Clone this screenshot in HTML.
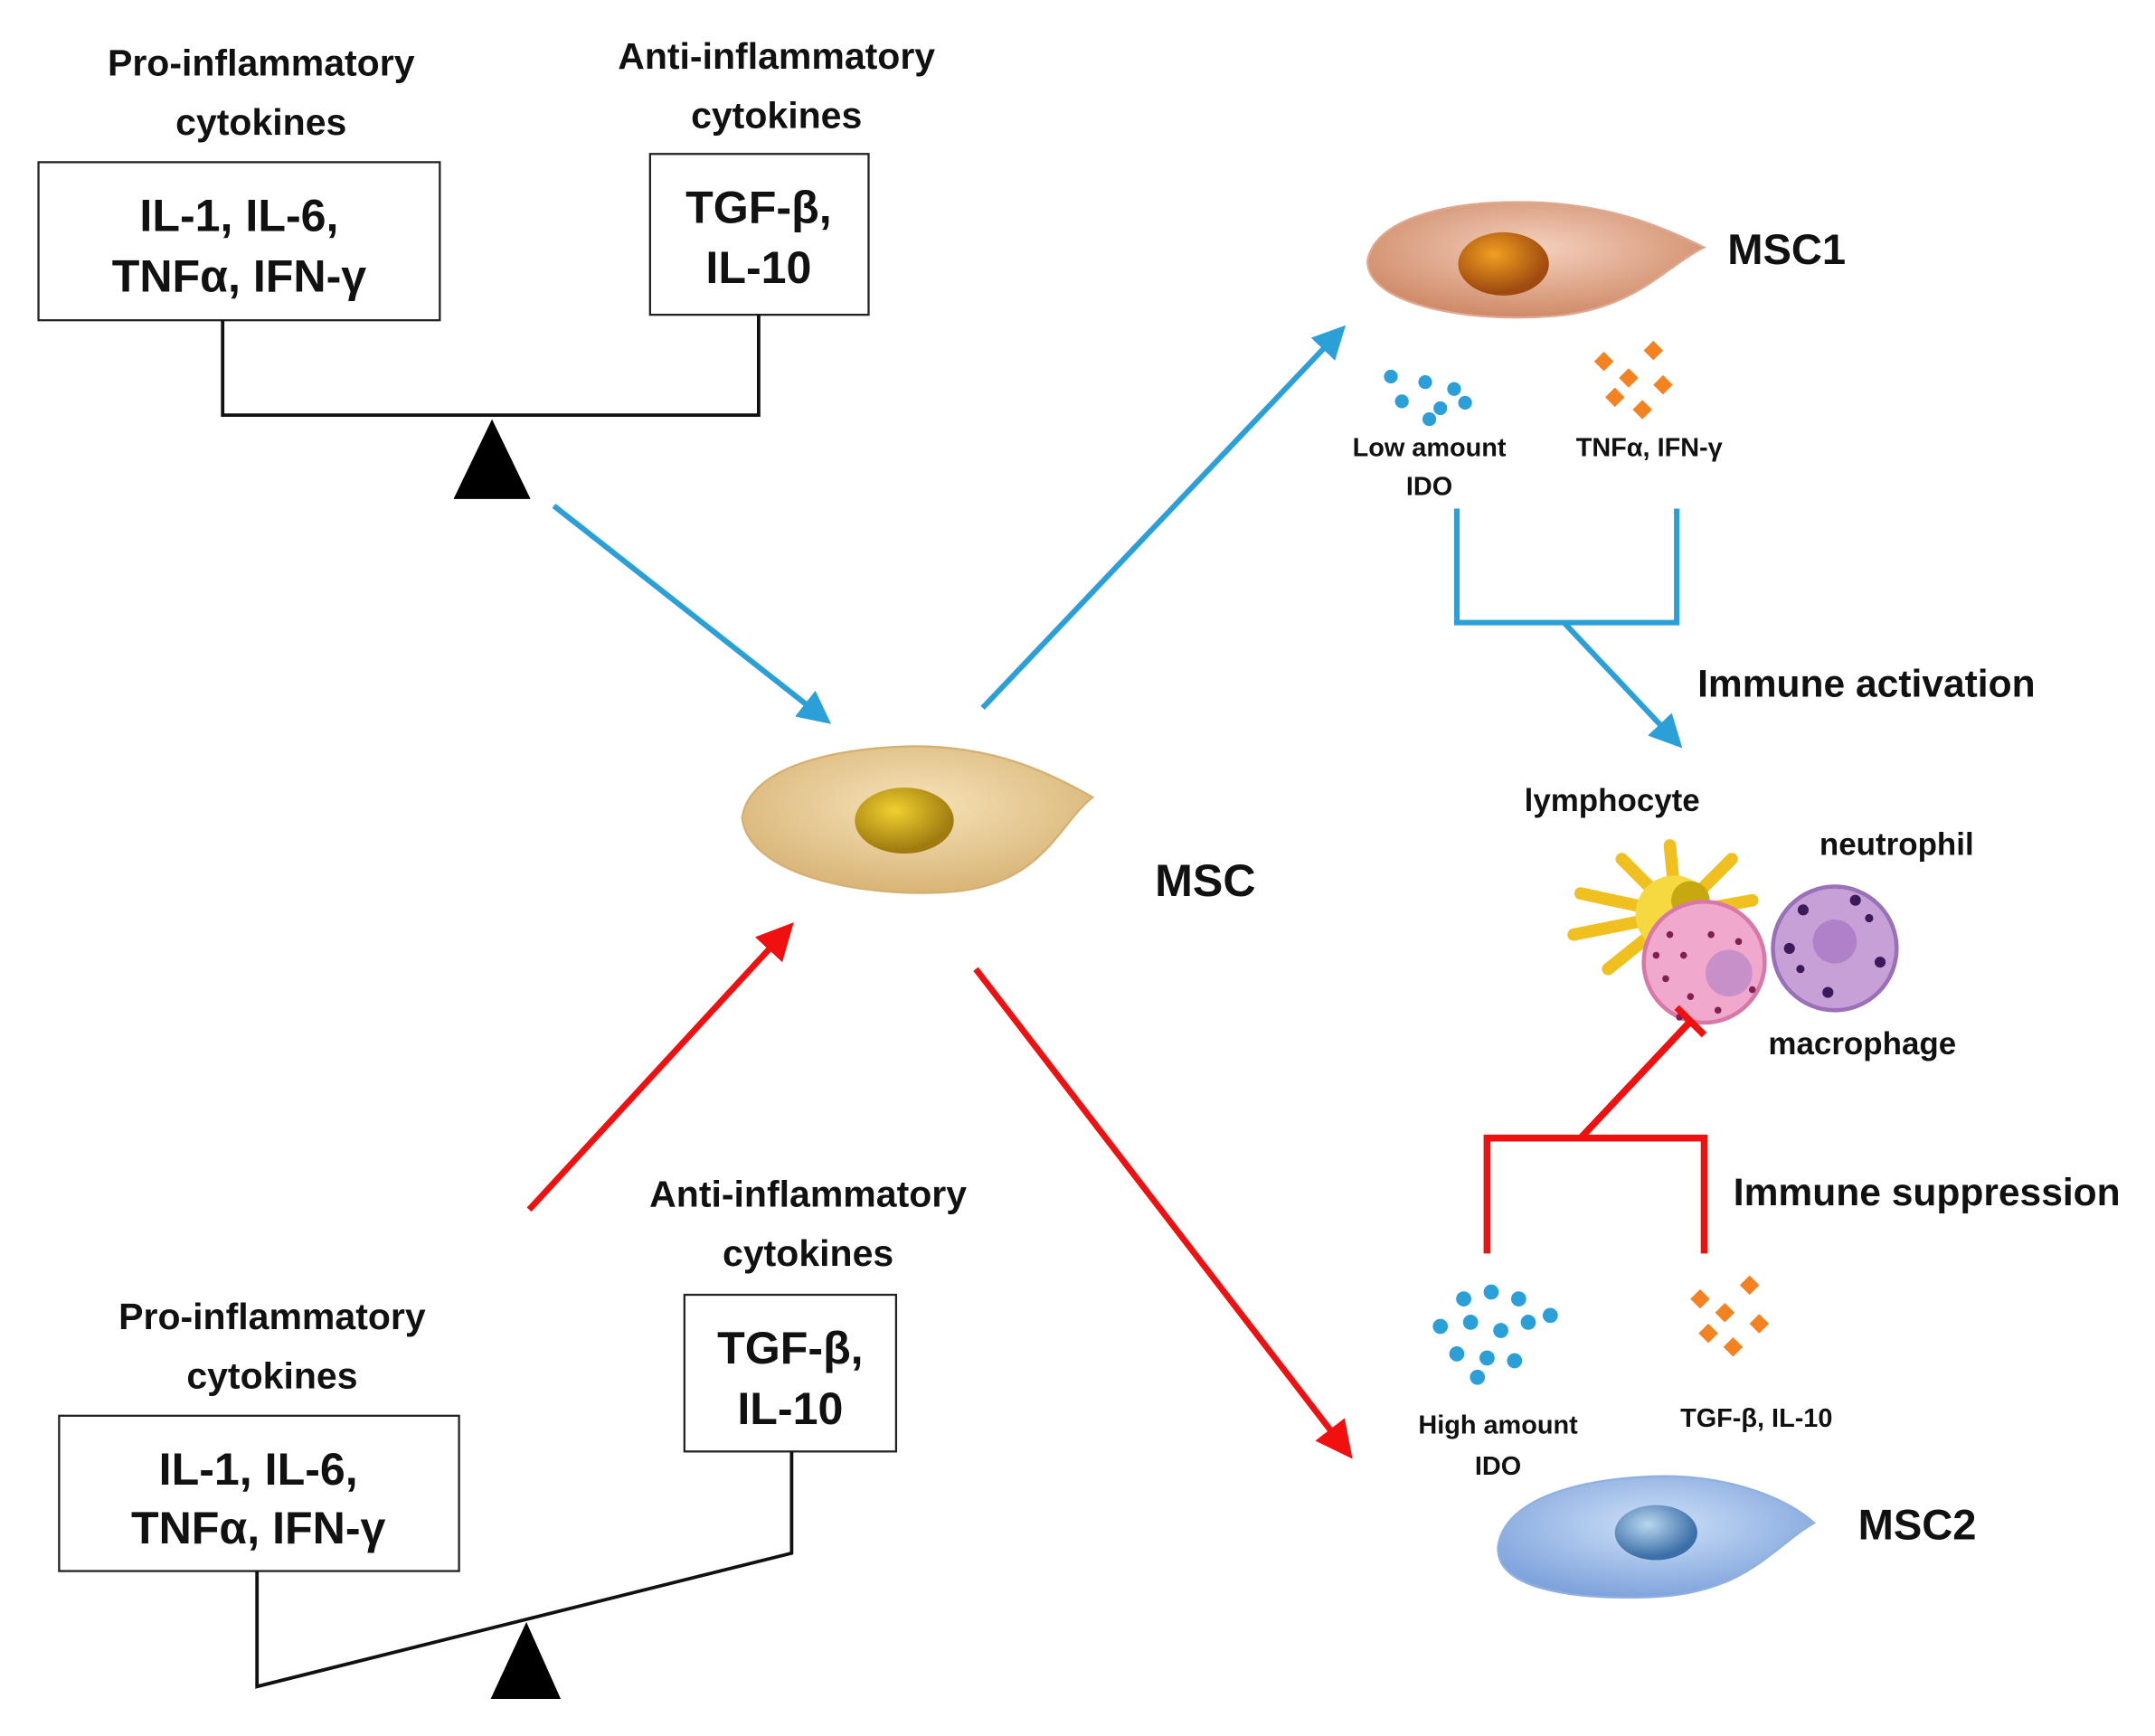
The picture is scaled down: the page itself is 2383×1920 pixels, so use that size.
<!DOCTYPE html>
<html><head><meta charset="utf-8"><style>
html,body{margin:0;padding:0;background:#fff}
svg{display:block}
text{font-family:"Liberation Sans","DejaVu Sans",sans-serif;font-weight:bold;fill:#111;text-anchor:middle}
</style></head><body>
<svg width="2383" height="1920" viewBox="0 0 1568 1263" preserveAspectRatio="none" xmlns="http://www.w3.org/2000/svg">
<defs>
<marker id="ab" markerWidth="6" markerHeight="6" refX="4.5" refY="3" orient="auto" markerUnits="strokeWidth"><path d="M0,0 L6,3 L0,6 Z" fill="#2a9fd8"/></marker>
<marker id="ar" markerWidth="6" markerHeight="6" refX="4.5" refY="3" orient="auto" markerUnits="strokeWidth"><path d="M0,0 L6,3 L0,6 Z" fill="#f01010"/></marker>
<radialGradient id="gmsc" cx="50%" cy="40%" r="60%"><stop offset="0" stop-color="#f6e3b8"/><stop offset="1" stop-color="#d8b477"/></radialGradient>
<radialGradient id="nmsc" cx="40%" cy="35%" r="60%"><stop offset="0" stop-color="#f0d030"/><stop offset="1" stop-color="#a07c10"/></radialGradient>
<radialGradient id="g1" cx="50%" cy="40%" r="60%"><stop offset="0" stop-color="#f4d0bd"/><stop offset="1" stop-color="#cf8a68"/></radialGradient>
<radialGradient id="n1" cx="40%" cy="35%" r="60%"><stop offset="0" stop-color="#f0a020"/><stop offset="1" stop-color="#a04a10"/></radialGradient>
<radialGradient id="g2" cx="50%" cy="40%" r="60%"><stop offset="0" stop-color="#cfe0f8"/><stop offset="1" stop-color="#7fa4dc"/></radialGradient>
<radialGradient id="n2" cx="40%" cy="35%" r="60%"><stop offset="0" stop-color="#b8d8f0"/><stop offset="1" stop-color="#3c6ea8"/></radialGradient>
</defs>

<text x="190" y="55" font-size="27">Pro-inflammatory</text>
<text x="190" y="98" font-size="27">cytokines</text>
<rect x="28" y="118" width="292" height="115" fill="#fff" stroke="#222" stroke-width="1.5"/>
<text x="174" y="168" font-size="33">IL-1, IL-6,</text>
<text x="174" y="212" font-size="33">TNFα, IFN-γ</text>
<text x="565" y="50" font-size="27">Anti-inflammatory</text>
<text x="565" y="93" font-size="27">cytokines</text>
<rect x="473" y="112" width="159" height="117" fill="#fff" stroke="#222" stroke-width="1.5"/>
<text x="552" y="162" font-size="33">TGF-β,</text>
<text x="552" y="206" font-size="33">IL-10</text>
<polyline points="162,233 162,302 552,302 552,229" fill="none" stroke="#111" stroke-width="2.5"/>
<polygon points="358,305 330,363 386,363" fill="#000"/>

<text x="198" y="967" font-size="27">Pro-inflammatory</text>
<text x="198" y="1010" font-size="27">cytokines</text>
<rect x="43" y="1030" width="291" height="113" fill="#fff" stroke="#222" stroke-width="1.5"/>
<text x="188" y="1080" font-size="33">IL-1, IL-6,</text>
<text x="188" y="1123" font-size="33">TNFα, IFN-γ</text>
<text x="588" y="878" font-size="27">Anti-inflammatory</text>
<text x="588" y="921" font-size="27">cytokines</text>
<rect x="498" y="942" width="154" height="114" fill="#fff" stroke="#222" stroke-width="1.5"/>
<text x="575" y="992" font-size="33">TGF-β,</text>
<text x="575" y="1036" font-size="33">IL-10</text>
<polyline points="187,1143 187,1227 576,1130 576,1056" fill="none" stroke="#111" stroke-width="2.5"/>
<polygon points="383,1180 357,1236 408,1236" fill="#000"/>

<line x1="403" y1="368" x2="600" y2="523" stroke="#2a9fd8" stroke-width="4" marker-end="url(#ab)"/>
<line x1="715" y1="515" x2="975" y2="241" stroke="#2a9fd8" stroke-width="4" marker-end="url(#ab)"/>
<line x1="385" y1="880" x2="573" y2="676" stroke="#f01010" stroke-width="4.5" marker-end="url(#ar)"/>
<line x1="710" y1="705" x2="980" y2="1056" stroke="#f01010" stroke-width="4.5" marker-end="url(#ar)"/>

<path d="M540,595 C545,560 600,545 660,543 C720,542 760,560 795,580 C770,600 760,640 700,648 C640,655 545,640 540,595 Z" fill="url(#gmsc)" stroke="#d6b070" stroke-width="1.5"/>
<ellipse cx="658" cy="597" rx="36" ry="24" fill="url(#nmsc)"/>
<text x="877" y="652" font-size="33">MSC</text>

<path d="M995,190 C1000,160 1050,147 1105,147 C1160,147 1200,160 1240,180 C1210,195 1190,225 1130,230 C1070,235 995,222 995,190 Z" fill="url(#g1)" stroke="#e0a890" stroke-width="1.5"/>
<ellipse cx="1094" cy="192" rx="33" ry="23" fill="url(#n1)"/>
<text x="1300" y="192" font-size="31">MSC1</text>
<g fill="#2a9fd8"><circle cx="1012" cy="274" r="5"/><circle cx="1037" cy="278" r="5"/><circle cx="1058" cy="283" r="5"/><circle cx="1020" cy="292" r="5"/><circle cx="1048" cy="297" r="5"/><circle cx="1066" cy="293" r="5"/><circle cx="1040" cy="305" r="5"/></g>
<g fill="#f58220"><rect x="1162" y="258" width="10" height="10" transform="rotate(45 1167 263)"/><rect x="1198" y="250" width="10" height="10" transform="rotate(45 1203 255)"/><rect x="1180" y="270" width="10" height="10" transform="rotate(45 1185 275)"/><rect x="1205" y="275" width="10" height="10" transform="rotate(45 1210 280)"/><rect x="1170" y="284" width="10" height="10" transform="rotate(45 1175 289)"/><rect x="1190" y="293" width="10" height="10" transform="rotate(45 1195 298)"/></g>
<text x="1040" y="332" font-size="19">Low amount</text>
<text x="1040" y="360" font-size="19">IDO</text>
<text x="1200" y="332" font-size="19">TNFα, IFN-γ</text>
<polyline points="1060,370 1060,453 1220,453 1220,370" fill="none" stroke="#2a9fd8" stroke-width="4"/>
<line x1="1138" y1="453" x2="1220" y2="540" stroke="#2a9fd8" stroke-width="4" marker-end="url(#ab)"/>
<text x="1358" y="507" font-size="28">Immune activation</text>

<text x="1173" y="590" font-size="23">lymphocyte</text>
<text x="1380" y="622" font-size="23">neutrophil</text>
<text x="1355" y="767" font-size="23">macrophage</text>
<g stroke="#f0c020" stroke-width="9" stroke-linecap="round">
<line x1="1220" y1="665" x2="1180" y2="625"/><line x1="1220" y1="665" x2="1215" y2="615"/><line x1="1220" y1="665" x2="1260" y2="625"/><line x1="1220" y1="665" x2="1275" y2="655"/><line x1="1220" y1="665" x2="1150" y2="650"/><line x1="1220" y1="665" x2="1145" y2="680"/><line x1="1220" y1="665" x2="1170" y2="705"/><line x1="1220" y1="665" x2="1250" y2="700"/></g>
<circle cx="1218" cy="665" r="28" fill="#f6d840"/>
<circle cx="1230" cy="655" r="14" fill="#c8a810"/>
<circle cx="1335" cy="690" r="45" fill="#c8a0d8" stroke="#9a70b8" stroke-width="3"/>
<circle cx="1335" cy="685" r="16" fill="#b080c8"/>
<g fill="#3a1a5a"><circle cx="1312" cy="662" r="4"/><circle cx="1350" cy="655" r="4"/><circle cx="1302" cy="690" r="4"/><circle cx="1368" cy="700" r="4"/><circle cx="1330" cy="722" r="4"/><circle cx="1310" cy="705" r="3"/><circle cx="1360" cy="668" r="3"/></g>
<circle cx="1240" cy="700" r="44" fill="#f0a8cc" stroke="#d878a8" stroke-width="3"/>
<circle cx="1258" cy="708" r="17" fill="#c890c8"/>
<g fill="#802050"><circle cx="1215" cy="680" r="2.5"/><circle cx="1225" cy="695" r="2.5"/><circle cx="1212" cy="712" r="2.5"/><circle cx="1230" cy="725" r="2.5"/><circle cx="1245" cy="680" r="2.5"/><circle cx="1265" cy="685" r="2.5"/><circle cx="1275" cy="720" r="2.5"/><circle cx="1250" cy="735" r="2.5"/><circle cx="1222" cy="740" r="2.5"/><circle cx="1205" cy="695" r="2.5"/></g>

<line x1="1150" y1="828" x2="1230" y2="743" stroke="#f01010" stroke-width="5"/>
<line x1="1220" y1="733" x2="1240" y2="753" stroke="#f01010" stroke-width="5"/>
<polyline points="1082,912 1082,828 1240,828 1240,912" fill="none" stroke="#f01010" stroke-width="5"/>
<text x="1402" y="877" font-size="28">Immune suppression</text>
<g fill="#2a9fd8"><circle cx="1065" cy="945" r="5.5"/><circle cx="1085" cy="940" r="5.5"/><circle cx="1105" cy="945" r="5.5"/><circle cx="1048" cy="965" r="5.5"/><circle cx="1070" cy="962" r="5.5"/><circle cx="1092" cy="968" r="5.5"/><circle cx="1112" cy="962" r="5.5"/><circle cx="1128" cy="957" r="5.5"/><circle cx="1060" cy="985" r="5.5"/><circle cx="1082" cy="988" r="5.5"/><circle cx="1102" cy="990" r="5.5"/><circle cx="1075" cy="1002" r="5.5"/></g>
<g fill="#f58220"><rect x="1232" y="940" width="10" height="10" transform="rotate(45 1237 945)"/><rect x="1268" y="930" width="10" height="10" transform="rotate(45 1273 935)"/><rect x="1250" y="950" width="10" height="10" transform="rotate(45 1255 955)"/><rect x="1275" y="958" width="10" height="10" transform="rotate(45 1280 963)"/><rect x="1238" y="965" width="10" height="10" transform="rotate(45 1243 970)"/><rect x="1256" y="975" width="10" height="10" transform="rotate(45 1261 980)"/></g>
<text x="1090" y="1043" font-size="19">High amount</text>
<text x="1090" y="1073" font-size="19">IDO</text>
<text x="1278" y="1038" font-size="19">TGF-β, IL-10</text>

<path d="M1090,1125 C1095,1090 1150,1075 1210,1074 C1260,1074 1300,1090 1320,1108 C1290,1125 1270,1160 1200,1162 C1140,1164 1088,1155 1090,1125 Z" fill="url(#g2)" stroke="#8fb0e0" stroke-width="1.5"/>
<ellipse cx="1205" cy="1115" rx="30" ry="20" fill="url(#n2)"/>
<text x="1395" y="1120" font-size="31">MSC2</text>
</svg>
</body></html>
